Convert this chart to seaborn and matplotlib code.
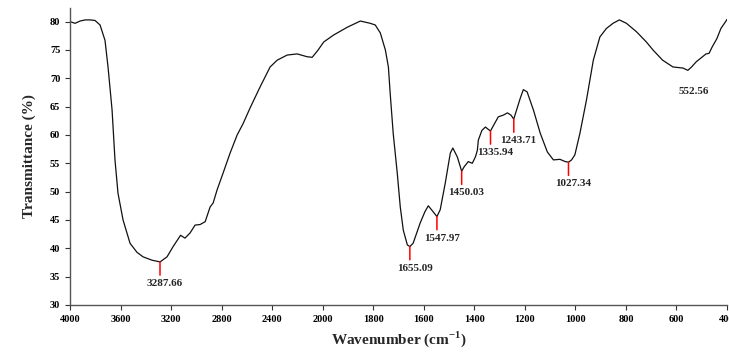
import numpy as np
import matplotlib
matplotlib.use("Agg")
import matplotlib.pyplot as plt
import pandas as pd
import seaborn as sns

# FTIR spectrum (wavenumber, transmittance)
wavenumber = [4000, 3960, 3920, 3880, 3840, 3802, 3762, 3723, 3699, 3667,
              3644, 3620, 3580, 3525, 3470, 3422, 3350, 3287, 3232, 3184,
              3125, 3090, 3050, 3010, 2970, 2930, 2891, 2867, 2836, 2788,
              2733, 2677, 2630, 2574, 2495, 2416, 2360, 2281, 2202, 2123,
              2083, 2036, 1996, 1958, 1903, 1851, 1812, 1792, 1772, 1752,
              1740, 1733, 1721, 1705, 1693, 1681, 1665, 1655, 1642, 1614,
              1595, 1582, 1562, 1548, 1535, 1515, 1495, 1485, 1467, 1450,
              1440, 1424, 1408, 1395, 1388, 1384, 1370, 1356, 1345, 1336,
              1320, 1305, 1285, 1269, 1255, 1244, 1232, 1218, 1206, 1191,
              1166, 1139, 1111, 1087, 1061, 1040, 1027, 1015, 1002, 982,
              956, 929, 903, 877, 851, 826, 798, 758, 719, 693,
              655, 614, 574, 555, 540, 522, 483, 471, 459, 440,
              424, 404, 400]
transmittance = [80.0, 79.7, 80.1, 80.3, 80.3, 80.2, 79.4, 76.7, 72.0, 64.4,
                 55.6, 49.7, 45.0, 40.9, 39.3, 38.5, 37.9, 37.6, 38.5, 40.3,
                 42.3, 41.8, 42.7, 44.1, 44.2, 44.7, 47.3, 48.0, 50.3, 53.3,
                 56.8, 60.0, 62.0, 64.8, 68.5, 72.0, 73.2, 74.1, 74.3, 73.8,
                 73.7, 75.0, 76.4, 77.6, 79.0, 80.1, 79.7, 79.4, 78.0, 75.0,
                 72.0, 67.4, 60.3, 53.3, 47.3, 43.2, 40.6, 40.3, 40.9, 44.5,
                 46.5, 47.5, 46.4, 45.6, 46.8, 51.5, 56.8, 57.7, 56.1, 53.6,
                 54.4, 55.3, 55.0, 56.2, 57.3, 59.1, 60.8, 61.4, 61.0, 60.7,
                 62.0, 63.2, 63.5, 63.9, 63.5, 62.8, 64.5, 66.5, 68.0, 67.6,
                 64.4, 60.3, 57.0, 55.6, 55.7, 55.3, 55.2, 55.6, 56.5, 60.3,
                 66.2, 73.2, 77.3, 78.8, 79.7, 80.3, 79.7, 78.2, 76.4, 75.0,
                 73.2, 72.0, 71.8, 71.4, 72.0, 72.9, 74.3, 74.4, 75.5, 77.0,
                 78.8, 80.1, 80.4]

# labelled bands
peak_wn = [3287.66, 1655.09, 1547.97, 1450.03, 1335.94, 1243.71, 1027.34, 552.56]
peak_T = [37.6, 40.3, 45.6, 53.6, 60.7, 62.8, 55.2, 71.4]
peak_line = [True, True, True, True, True, True, True, False]

xticks = [4000, 3600, 3200, 2800, 2400, 2000, 1800, 1600, 1400, 1200, 1000, 800, 600, 400]
yticks = [30, 35, 40, 45, 50, 55, 60, 65, 70, 75, 80]

df = pd.DataFrame({"wn": wavenumber, "T": transmittance})

sns.set_style("ticks")
plt.rcParams["font.family"] = ["Liberation Serif", "DejaVu Serif"]
plt.rcParams["font.weight"] = "bold"
plt.rcParams["mathtext.fontset"] = "custom"
plt.rcParams["mathtext.rm"] = "Liberation Serif:bold"
plt.rcParams["mathtext.bf"] = "Liberation Serif:bold"


# instrument scale: 400 cm-1 per division above 2000, 200 below
def fwd(w):
    w = np.asarray(w, dtype=float)
    return np.where(w >= 2000, w / 400.0, 5 + (w - 2000) / 200.0)


def inv(p):
    p = np.asarray(p, dtype=float)
    return np.where(p >= 5, p * 400.0, 2000 + (p - 5) * 200.0)


fig = plt.figure(figsize=(7.29, 3.52), dpi=100)
ax = fig.add_axes([70 / 729, 1 - 305 / 352, 657 / 729, 297 / 352])
ax.set_xscale("function", functions=(fwd, inv))

sns.lineplot(data=df, x="wn", y="T", sort=False, color="#111111", lw=0.9, ax=ax)

for wn, t, ln in zip(peak_wn, peak_T, peak_line):
    if ln:
        ax.annotate("", xy=(wn, t), xytext=(0, -9.5), textcoords="offset points",
                    arrowprops=dict(arrowstyle="-", color="red", lw=1.1,
                                    shrinkA=0, shrinkB=0))
    ax.annotate(f"{wn:.2f}", xy=(wn, t), xytext=(3.5, -15.5), textcoords="offset points",
                ha="center", va="center", fontsize=8, fontweight="bold")

ax.set_xlim(4000, 400)
ax.set_ylim(30, 82.4)
ax.set_xticks(xticks)
ax.set_xticklabels([str(v) for v in xticks])
ax.set_yticks(yticks)
ax.xaxis.set_minor_locator(matplotlib.ticker.NullLocator())
ax.tick_params(labelsize=7.5, length=3.5, width=0.8, colors="#333333", labelcolor="black")
for lab in ax.get_xticklabels() + ax.get_yticklabels():
    lab.set_fontweight("bold")

ax.set_xlabel("Wavenumber (cm$^{-1}$)", fontsize=11, fontweight="bold", labelpad=4)
ax.set_ylabel("Transmittance (%)", fontsize=11, fontweight="bold", labelpad=10)

sns.despine(ax=ax)
for s in ["left", "bottom"]:
    ax.spines[s].set_color("#555555")
    ax.spines[s].set_linewidth(1.0)

fig.savefig("out.png", dpi=100)
